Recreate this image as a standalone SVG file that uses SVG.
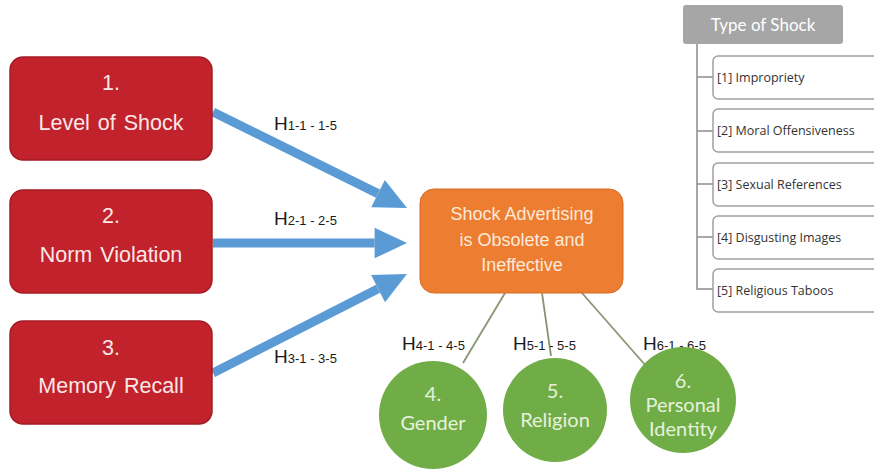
<svg xmlns="http://www.w3.org/2000/svg" width="874" height="469" viewBox="0 0 874 469">
<style>
.red{fill:#c1222b;stroke:#a51c23;stroke-width:1.5}
.redt{font-family:"Liberation Sans",Arial,sans-serif;font-size:21.5px;fill:#fbe7e7;text-anchor:middle;word-spacing:2px}
.orng{fill:#ed7d31;stroke:#d96a22;stroke-width:1}
.ort{font-family:"Liberation Sans",Arial,sans-serif;font-size:18px;fill:#fde9d9;text-anchor:middle}
.grn{fill:#70ad47}
.grt{font-family:Lato,"Open Sans",sans-serif;font-size:20px;fill:#e6f2dd;text-anchor:middle}
.h{font-family:"Liberation Sans",Arial,sans-serif;font-size:19px;fill:#1a1a1a}
.sub{font-size:13px}
.arrow{stroke:#5b9bd5;stroke-width:9;fill:none;marker-end:url(#ah)}
.link{stroke:#8a9672;stroke-width:1.8;fill:none}
.hdr{fill:#a6a6a6}
.hdrt{font-family:Lato,"Open Sans",sans-serif;font-size:17px;fill:#fff;text-anchor:middle}
.item{fill:#fff;stroke:#a0a0a0;stroke-width:1.5}
.itt{font-family:"Open Sans","Noto Sans",sans-serif;font-size:12.5px;fill:#333}
.tree{stroke:#8c8c8c;stroke-width:1.5;fill:none}
</style>
<defs>
<marker id="ah" markerUnits="strokeWidth" markerWidth="3.6" markerHeight="3.4" refX="0" refY="1.7" orient="auto" overflow="visible">
<path d="M0,0 L3.6,1.7 L0,3.4 z" fill="#5b9bd5"/>
</marker>
</defs>
<rect width="874" height="469" fill="#fff"/>
<g id="connectors">
<line class="arrow" x1="213" y1="112" x2="378" y2="193.6"/>
<line class="arrow" x1="213" y1="243" x2="374.6" y2="243"/>
<line class="arrow" x1="213" y1="373" x2="378.1" y2="288.7"/>
<line class="link" x1="505" y1="293" x2="463" y2="363"/>
<line class="link" x1="542" y1="293" x2="551" y2="356"/>
<line class="link" x1="582" y1="293" x2="646" y2="366"/>
<text class="h" x="274" y="130">H<tspan class="sub">1-1 - 1-5</tspan></text>
<text class="h" x="274" y="225">H<tspan class="sub">2-1 - 2-5</tspan></text>
<text class="h" x="274" y="363">H<tspan class="sub">3-1 - 3-5</tspan></text>
<text class="h" x="402" y="350">H<tspan class="sub">4-1 - 4-5</tspan></text>
<text class="h" x="513" y="350">H<tspan class="sub">5-1 - 5-5</tspan></text>
<text class="h" x="643" y="350">H<tspan class="sub">6-1 - 6-5</tspan></text>
</g>
<g id="node1">
<rect class="red" x="10" y="57" width="202" height="103" rx="13"/>
<text class="redt" x="111" y="90">1.</text>
<text class="redt" x="111" y="130">Level of Shock</text>
</g>
<g id="node2">
<rect class="red" x="10" y="190" width="202" height="103" rx="13"/>
<text class="redt" x="111" y="223">2.</text>
<text class="redt" x="111" y="262">Norm Violation</text>
</g>
<g id="node3">
<rect class="red" x="10" y="321" width="202" height="103" rx="13"/>
<text class="redt" x="111" y="355">3.</text>
<text class="redt" x="111" y="393">Memory Recall</text>
</g>
<g id="center">
<rect class="orng" x="420" y="189" width="203" height="104" rx="14"/>
<text class="ort" x="522" y="220">Shock Advertising</text>
<text class="ort" x="522" y="246">is Obsolete and</text>
<text class="ort" x="522" y="271">Ineffective</text>
</g>
<g id="node4">
<circle class="grn" cx="433" cy="415" r="54"/>
<text class="grt" x="433" y="401">4.</text>
<text class="grt" x="433" y="430">Gender</text>
</g>
<g id="node5">
<circle class="grn" cx="555" cy="410" r="52"/>
<text class="grt" x="555" y="398">5.</text>
<text class="grt" x="555" y="427">Religion</text>
</g>
<g id="node6">
<circle class="grn" cx="683" cy="400" r="53"/>
<text class="grt" x="683" y="388">6.</text>
<text class="grt" x="683" y="412">Personal</text>
<text class="grt" x="683" y="436">Identity</text>
</g>
<g id="type-of-shock">
<rect class="hdr" x="683" y="5" width="160" height="39" rx="3"/>
<text class="hdrt" x="763" y="31">Type of Shock</text>
<path class="tree" d="M697,44 V289 H713 M697,77 H713 M697,131 H713 M697,184 H713 M697,237 H713"/>
<rect class="item" x="713" y="56" width="165" height="43" rx="5"/>
<text class="itt" x="717" y="82">[1] Impropriety</text>
<rect class="item" x="713" y="109" width="165" height="43" rx="5"/>
<text class="itt" x="717" y="135">[2] Moral Offensiveness</text>
<rect class="item" x="713" y="163" width="165" height="43" rx="5"/>
<text class="itt" x="717" y="189">[3] Sexual References</text>
<rect class="item" x="713" y="216" width="165" height="43" rx="5"/>
<text class="itt" x="717" y="242">[4] Disgusting Images</text>
<rect class="item" x="713" y="269" width="165" height="43" rx="5"/>
<text class="itt" x="717" y="295">[5] Religious Taboos</text>
</g>
</svg>
